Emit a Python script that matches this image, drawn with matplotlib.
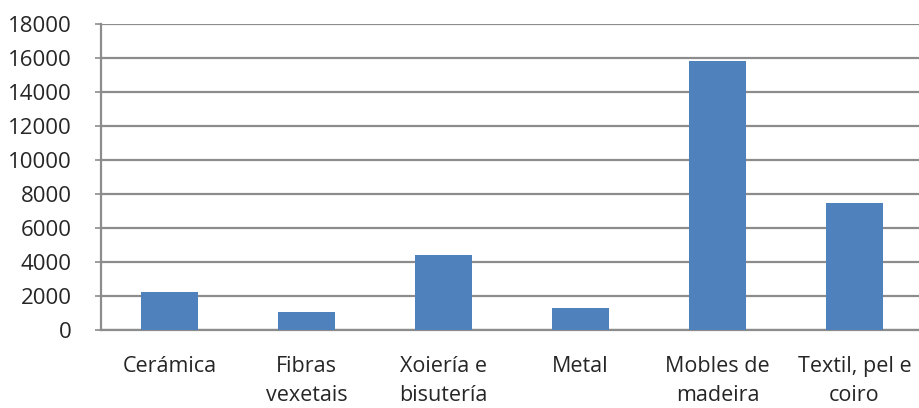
import matplotlib
matplotlib.use("Agg")
import matplotlib.pyplot as plt
import numpy as np

categories = ["Cerámica", "Fibras\nvexetais", "Xoiería e\nbisutería", "Metal",
              "Mobles de\nmadeira", "Textil, pel e\ncoiro"]
values = [2250, 1080, 4400, 1300, 15800, 7450]
yticks = [0, 2000, 4000, 6000, 8000, 10000, 12000, 14000, 16000, 18000]

plt.rcParams["font.family"] = ["Open Sans", "DejaVu Sans"]

W, H = 920, 408
fig = plt.figure(figsize=(W / 100, H / 100), dpi=100)
left, right, bottom, top = 101, 923, 330, 24
ax = fig.add_axes([left / W, (H - bottom) / H, (right - left) / W, (bottom - top) / H])

x = np.arange(len(categories))
ax.bar(x, values, width=0.41, color="#4F81BD", zorder=3)

ax.set_xlim(-0.5, len(categories) - 0.5)
ax.set_ylim(0, 18000)
ax.set_yticks(yticks)
ax.set_yticklabels([str(v) for v in yticks])
ax.set_xticks(x)
ax.set_xticklabels(categories, linespacing=1.5)

ax.grid(axis="y", color="#8c8c8c", linewidth=1.6, zorder=0)
for s in ["top", "right"]:
    ax.spines[s].set_visible(False)
for s in ["left", "bottom"]:
    ax.spines[s].set_color("#8c8c8c")
    ax.spines[s].set_linewidth(1.6)

ax.tick_params(axis="y", length=4, width=1.2, color="#8c8c8c", pad=17,
               labelsize=16, labelcolor="#262626")
ax.tick_params(axis="x", length=0, pad=19, labelsize=15.5, labelcolor="#262626")

fig.savefig("out.png", dpi=100)
